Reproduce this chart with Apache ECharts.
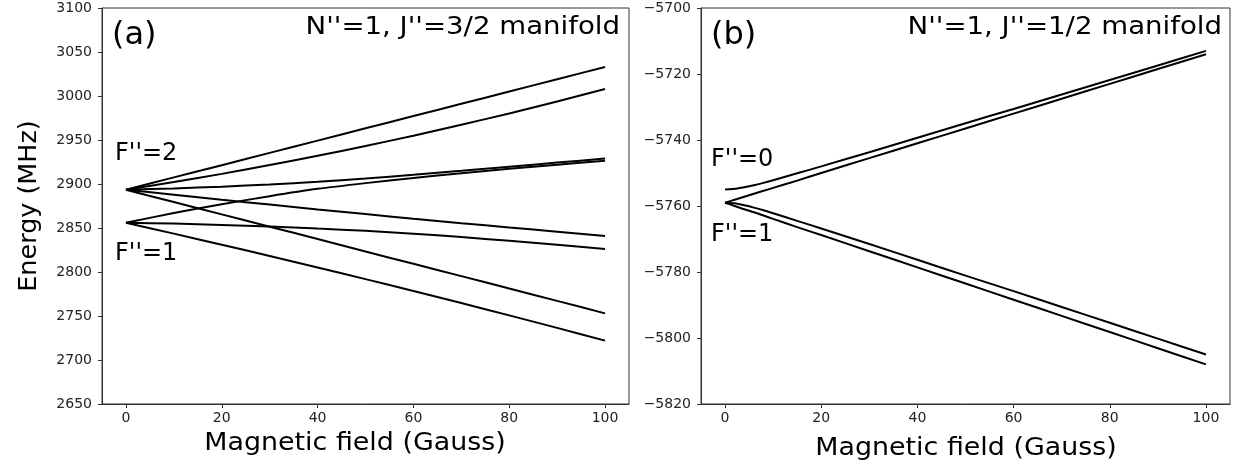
<!DOCTYPE html>
<html>
<head>
<meta charset="utf-8">
<script src="https://cdn.jsdelivr.net/npm/echarts@6/dist/echarts.min.js"></script>
<style>
  html, body { margin: 0; padding: 0; background: #fff; }
  #chart { width: 1235px; height: 461px; }
</style>
</head>
<body>
<div id="chart"></div>
<script>
// Magnetic field samples (Gauss)
const fieldA = [0, 10, 20, 30, 40, 50, 60, 70, 80, 90, 100];
const fieldB = [0, 2, 4, 6, 8, 10, 15, 20, 30, 40, 50, 60, 70, 80, 90, 100];

// (a) N''=1, J''=3/2 manifold, energies in MHz
const f2Up1   = [2893.5, 2907.5, 2921.4, 2935.4, 2949.3, 2963.3, 2977.2, 2991.1, 3005.1, 3019.0, 3033.0];
const f2Up2   = [2893.5, 2902.2, 2911.5, 2921.5, 2932.0, 2943.2, 2954.9, 2967.3, 2980.2, 2993.8, 3008.0];
const f2Flat  = [2893.5, 2895.0, 2897.0, 2899.5, 2902.5, 2906.3, 2910.5, 2915.0, 2919.6, 2924.3, 2929.0];
const f2Down1 = [2893.5, 2887.8, 2882.0, 2876.6, 2871.0, 2865.8, 2860.6, 2855.5, 2850.6, 2845.8, 2841.0];
const f2Down2 = [2893.5, 2879.5, 2865.5, 2851.5, 2837.5, 2823.3, 2809.3, 2795.3, 2781.2, 2767.2, 2753.0];
const f1Up    = [2856.0, 2867.0, 2877.0, 2886.2, 2894.5, 2901.0, 2906.8, 2912.2, 2917.2, 2922.0, 2926.3];
const f1Flat  = [2856.0, 2855.0, 2853.5, 2851.8, 2849.3, 2846.8, 2843.5, 2839.7, 2835.5, 2831.0, 2826.0];
const f1Down  = [2856.0, 2843.6, 2831.0, 2818.2, 2805.2, 2791.9, 2778.4, 2764.7, 2750.7, 2736.5, 2722.0];

// (b) N''=1, J''=1/2 manifold, energies in MHz
const f0Curve = [-5755.0, -5754.8, -5754.3, -5753.7, -5753.0, -5752.2, -5750.1, -5748.0, -5743.7, -5739.3, -5734.9, -5730.6, -5726.2, -5721.8, -5717.4, -5713.0];
const g1Up    = [-5759.0, -5758.1, -5757.2, -5756.3, -5755.4, -5754.5, -5752.3, -5750.0, -5745.5, -5741.0, -5736.5, -5732.0, -5727.5, -5723.0, -5718.5, -5714.0];
const g1Curve = [-5759.0, -5759.2, -5759.8, -5760.5, -5761.3, -5762.2, -5764.5, -5766.8, -5771.5, -5776.3, -5781.1, -5785.8, -5790.6, -5795.4, -5800.2, -5805.0];
const g1Down  = [-5759.0, -5760.0, -5761.0, -5761.9, -5762.9, -5763.9, -5766.4, -5768.8, -5773.7, -5778.6, -5783.5, -5788.4, -5793.3, -5798.2, -5803.1, -5808.0];

// Tick values
const fieldTicks = [0, 20, 40, 60, 80, 100];

const levelsA = [f2Up1, f2Up2, f2Flat, f2Down1, f2Down2, f1Up, f1Flat, f1Down];
const levelsB = [f0Curve, g1Up, g1Curve, g1Down];

const FONT = 'DejaVu Sans';
const SPINE = '#333';

function pairs(xs, ys) { return xs.map((x, i) => [x, ys[i]]); }
function plain(v) { return String(v).replace('-', '\u2212'); }

function xAxisFor(gridIndex) {
  return {
    type: 'value', gridIndex, min: -5, max: 105,
    axisLine: { show: true, onZero: false, lineStyle: { color: SPINE, width: 1 } },
    axisTick: { show: true, length: 4, lineStyle: { color: SPINE }, customValues: fieldTicks },
    axisLabel: { color: '#222', fontFamily: FONT, fontSize: 14, margin: 7, customValues: fieldTicks },
    splitLine: { show: false }
  };
}

function yAxisFor(gridIndex, min, max, step) {
  return {
    type: 'value', gridIndex, min, max, interval: step,
    axisLine: { show: true, onZero: false, lineStyle: { color: SPINE } },
    axisTick: { show: true, length: 4, lineStyle: { color: SPINE } },
    axisLabel: { color: '#222', fontFamily: FONT, fontSize: 14, margin: 10, formatter: plain },
    splitLine: { show: false }
  };
}

function levelSeries(levels, xs, axisIndex) {
  return levels.map(ys => ({
    type: 'line', xAxisIndex: axisIndex, yAxisIndex: axisIndex,
    data: pairs(xs, ys), showSymbol: false, smooth: 0.2,
    lineStyle: { color: '#000', width: 2 }, silent: true, animation: false
  }));
}

function label(text, left, top, size, align, stretch, rotation) {
  return {
    type: 'text', x: left, y: top, scaleX: stretch || 1, rotation: rotation || 0,
    style: { text, fill: '#000', font: size + 'px "' + FONT + '"', align: align || 'left', verticalAlign: 'middle' }
  };
}

const chart = echarts.init(document.getElementById('chart'), null, { renderer: 'canvas' });
chart.setOption({
  animation: false,
  backgroundColor: '#fff',
  grid: [
    { left: 102, top: 8, width: 527, height: 396, show: true, borderColor: SPINE, borderWidth: 1 },
    { left: 701, top: 8, width: 529, height: 396, show: true, borderColor: SPINE, borderWidth: 1 }
  ],
  xAxis: [xAxisFor(0), xAxisFor(1)],
  yAxis: [yAxisFor(0, 2650, 3100, 50), yAxisFor(1, -5820, -5700, 20)],
  series: [].concat(levelSeries(levelsA, fieldA, 0), levelSeries(levelsB, fieldB, 1)),
  graphic: [
    label('(a)', 112, 36, 32),
    label("N''=1, J''=3/2 manifold", 620, 28, 24, 'right', 1.15),
    label("F''=2", 115, 154, 24),
    label("F''=1", 115, 254, 24),
    label('(b)', 711, 36, 32),
    label("N''=1, J''=1/2 manifold", 1222, 28, 24, 'right', 1.15),
    label("F''=0", 711, 160, 24),
    label("F''=1", 711, 235, 24),
    label('Energy (MHz)', 30, 206, 24, 'center', 1.06, Math.PI / 2),
    label('Magnetic field (Gauss)', 355, 444, 24, 'center', 1.12),
    label('Magnetic field (Gauss)', 966, 449, 24, 'center', 1.12)
  ]
});
</script>
</body>
</html>
